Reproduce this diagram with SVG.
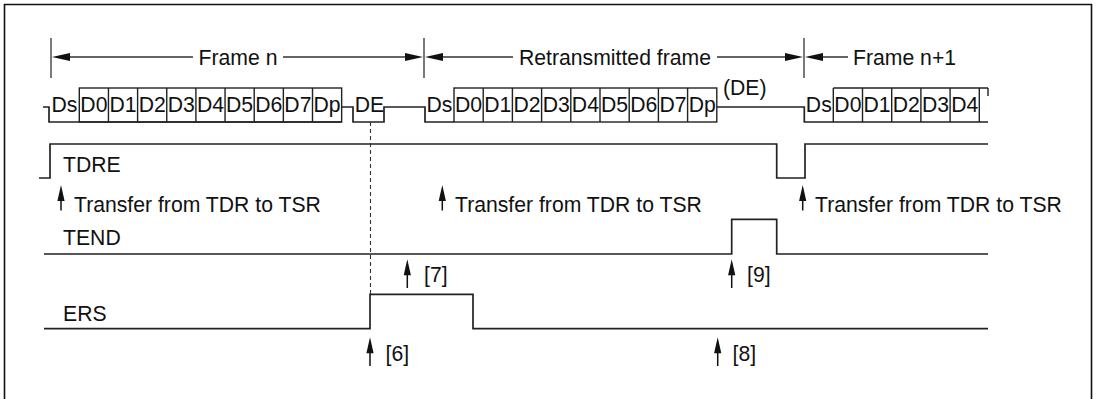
<svg xmlns="http://www.w3.org/2000/svg" width="1097" height="399" viewBox="0 0 1097 399">
<style>
text{font-family:"Liberation Sans",Arial,Helvetica,sans-serif;font-size:21.2px;fill:#111}
.c{text-anchor:middle}
.sig{fill:none;stroke:#222;stroke-width:1.7}
.box{fill:none;stroke:#222;stroke-width:1.4}
.tick{fill:none;stroke:#333;stroke-width:1.3}
.dim{fill:none;stroke:#333;stroke-width:1.3}
.dash{fill:none;stroke:#333;stroke-width:1.1;stroke-dasharray:4 3}
.up{fill:none;stroke:#111;stroke-width:1.5}
.hd{fill:#111}
</style>
<defs>
<path id="hl" class="hd" d="M0,0 L18,-4 L18,4 Z"/>
<path id="hr" class="hd" d="M0,0 L-18,-4 L-18,4 Z"/>
<path id="hu" class="hd" d="M0,0 L-3.6,16 L3.6,16 Z"/>
</defs>

<path id="border" d="M4.5,402 V4.5 H1091.5 V402" fill="none" stroke="#111" stroke-width="1.6"/>

<g id="frame-n">
<text x="238" y="65" class="c">Frame n</text>
</g>
<g id="frame-retransmitted">
<text x="615" y="65" class="c">Retransmitted frame</text>
</g>
<g id="frame-n1">
<text x="853" y="65">Frame n+1</text>
</g>

<g id="ticks">
<path class="tick" d="M51,38 V78 M424,38 V78 M804,38 V78"/>
</g>

<g id="data-frame-n">
<path class="sig" d="M43,107 H49 V122 H341.65"/>
<rect class="box" x="79.3" y="88" width="262.35" height="34"/>
<path class="box" d="M108.45,88 V122 M137.6,88 V122 M166.75,88 V122 M195.9,88 V122 M225.05,88 V122 M254.2,88 V122 M283.35,88 V122 M312.5,88 V122"/>
<text x="64.5" y="112" class="c">Ds</text>
<text x="93.9" y="112" class="c">D0</text>
<text x="123" y="112" class="c">D1</text>
<text x="152.2" y="112" class="c">D2</text>
<text x="181.3" y="112" class="c">D3</text>
<text x="210.5" y="112" class="c">D4</text>
<text x="239.6" y="112" class="c">D5</text>
<text x="268.8" y="112" class="c">D6</text>
<text x="297.9" y="112" class="c">D7</text>
<text x="327.1" y="112" class="c">Dp</text>
</g>

<g id="data-de">
<path class="sig" d="M341.65,107 H353 V122 H384 V107 H425 V122 H454"/>
<text x="369.5" y="112" class="c">DE</text>
</g>

<g id="data-retransmitted">
<rect class="box" x="454" y="88" width="262.8" height="34"/>
<path class="box" d="M483.2,88 V122 M512.4,88 V122 M541.6,88 V122 M570.8,88 V122 M600,88 V122 M629.2,88 V122 M658.4,88 V122 M687.6,88 V122"/>
<text x="439.5" y="112" class="c">Ds</text>
<text x="468.6" y="112" class="c">D0</text>
<text x="497.8" y="112" class="c">D1</text>
<text x="527" y="112" class="c">D2</text>
<text x="556.2" y="112" class="c">D3</text>
<text x="585.4" y="112" class="c">D4</text>
<text x="614.6" y="112" class="c">D5</text>
<text x="643.8" y="112" class="c">D6</text>
<text x="673" y="112" class="c">D7</text>
<text x="702.2" y="112" class="c">Dp</text>
</g>

<g id="data-de2">
<path class="sig" d="M716.8,107 H804.3 V122 H988"/>
<text x="723" y="94.5">(DE)</text>
</g>

<g id="data-frame-n1">
<path class="box" d="M833.3,88 H988 M833.3,88 V122 M862.5,88 V122 M891.7,88 V122 M920.9,88 V122 M950.1,88 V122 M979.3,88 V122 M988,88 V96"/>
<text x="818.8" y="112" class="c">Ds</text>
<text x="847.9" y="112" class="c">D0</text>
<text x="877.1" y="112" class="c">D1</text>
<text x="906.3" y="112" class="c">D2</text>
<text x="935.5" y="112" class="c">D3</text>
<text x="964.7" y="112" class="c">D4</text>
</g>

<g id="tdre">
<path class="sig" d="M39,178 H50 V144 H776.7 V178 H805 V144 H988"/>
<text x="63" y="171.5">TDRE</text>
</g>

<g id="transfer-labels">
<text x="74" y="211.7">Transfer from TDR to TSR</text>
<text x="455" y="211.7">Transfer from TDR to TSR</text>
<text x="815" y="211.7">Transfer from TDR to TSR</text>
</g>

<g id="tend">
<path class="sig" d="M44,254 H731.7 V219.3 H776.7 V254 H988"/>
<text x="63" y="245">TEND</text>
</g>

<g id="ers">
<path class="sig" d="M44,328.7 H370 V294.3 H473 V328.7 H988"/>
<text x="63" y="321">ERS</text>
</g>

<g id="step-labels">
<text x="424" y="282">[7]</text>
<text x="747" y="282">[9]</text>
<text x="385.5" y="361">[6]</text>
<text x="732.5" y="361">[8]</text>
</g>

<g id="connectors">
<path class="dim" d="M193,57 H60 M283,57 H415 M513,57 H433 M717,57 H795 M848,57 H813"/>
<use href="#hl" x="52" y="57"/>
<use href="#hr" x="423" y="57"/>
<use href="#hl" x="425" y="57"/>
<use href="#hr" x="803" y="57"/>
<use href="#hl" x="805" y="57"/>
<path class="dash" d="M370.5,122 V294"/>
<path class="up" d="M61,210.5 V195 M442.3,210.5 V195 M802.7,210.5 V195 M407.3,288 V270 M731.7,288 V270 M370,366 V348 M717.7,366 V348"/>
<use href="#hu" x="61" y="185"/>
<use href="#hu" x="442.3" y="185"/>
<use href="#hu" x="802.7" y="185"/>
<use href="#hu" x="407.3" y="259.3"/>
<use href="#hu" x="731.7" y="259.3"/>
<use href="#hu" x="370" y="337.3"/>
<use href="#hu" x="717.7" y="337.3"/>
</g>
</svg>
